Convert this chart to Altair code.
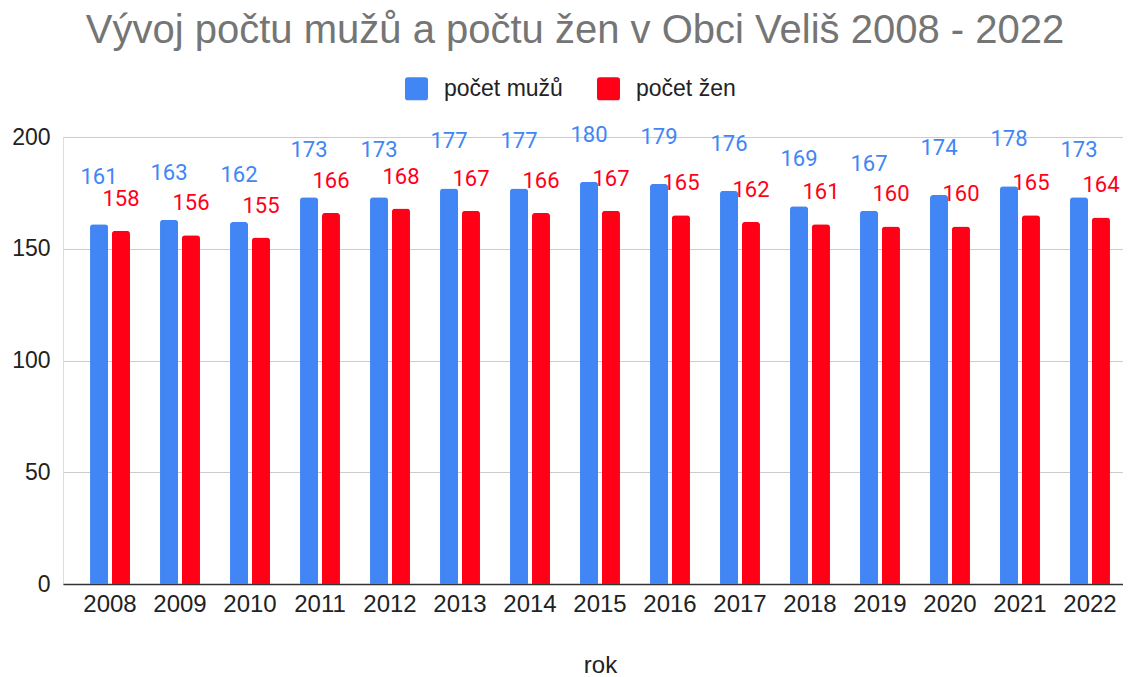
import altair as alt
import pandas as pd

years = ["2008", "2009", "2010", "2011", "2012", "2013", "2014", "2015",
         "2016", "2017", "2018", "2019", "2020", "2021", "2022"]
muzi = [161, 163, 162, 173, 173, 177, 177, 180, 179, 176, 169, 167, 174, 178, 173]
zeny = [158, 156, 155, 166, 168, 167, 166, 167, 165, 162, 161, 160, 160, 165, 164]
series = ["počet mužů", "počet žen"]
colors = ["#4285F4", "#FF0017"]

rows = []
for i, y in enumerate(years):
    rows.append({"rok": y, "serie": series[0], "hodnota": muzi[i]})
    rows.append({"rok": y, "serie": series[1], "hodnota": zeny[i]})
df = pd.DataFrame(rows)

FONT = "Liberation Sans"
rounded = ("M -0.75 -1 L 0.75 -1 Q 1 -1 1 -0.75 L 1 0.75 Q 1 1 0.75 1 "
           "L -0.75 1 Q -1 1 -1 0.75 L -1 -0.75 Q -1 -1 -0.75 -1 Z")

x = alt.X("rok:N", sort=years, title="rok",
          scale=alt.Scale(paddingInner=0.429, paddingOuter=0.386, range=[0, 1074]),
          axis=alt.Axis(labelAngle=0, labelFontSize=24, labelColor="#222222",
                        labelFont=FONT, titleFont=FONT, titleFontSize=24,
                        titleFontWeight="normal", titleColor="#222222",
                        titlePadding=37, labelPadding=8, ticks=False,
                        domainColor="#333333", domainWidth=1.5))
xo = alt.XOffset("serie:N", sort=series, scale=alt.Scale(paddingInner=0.18))
y = alt.Y("hodnota:Q", title=None,
          scale=alt.Scale(domain=[0, 200], nice=False),
          axis=alt.Axis(values=[0, 50, 100, 150, 200], labelFontSize=23,
                        labelColor="#222222", labelFont=FONT, labelPadding=13,
                        ticks=False, domain=False, gridColor="#cccccc"))
color = alt.Color("serie:N", sort=series,
                  scale=alt.Scale(domain=series, range=colors),
                  legend=alt.Legend(title=None, orient="none", direction="horizontal",
                                    legendX=342, legendY=-60, symbolType=rounded,
                                    symbolSize=529, symbolStrokeWidth=0,
                                    labelFontSize=23, labelFont=FONT,
                                    labelColor="#222222", columnPadding=34,
                                    labelOffset=16))

base = alt.Chart(df)
bars = base.mark_bar(cornerRadiusTopLeft=3, cornerRadiusTopRight=3).encode(
    x=x, xOffset=xo, y=y, color=color)

lab_m = base.transform_filter(alt.datum.serie == series[0]).mark_text(
    fontSize=22, font="Roboto", dy=-47, baseline="middle", color=colors[0]
).encode(x=x, xOffset=xo, y=y, text="hodnota:Q")
lab_z = base.transform_filter(alt.datum.serie == series[1]).mark_text(
    fontSize=22, font="Roboto", dy=-32, baseline="middle", color=colors[1]
).encode(x=x, xOffset=xo, y=y, text="hodnota:Q")

chart = alt.layer(bars, lab_m, lab_z).properties(
    width=1060, height=447,
    title=alt.TitleParams("Vývoj počtu mužů a počtu žen v Obci Veliš 2008 - 2022",
                          fontSize=40, font=FONT, fontWeight="normal",
                          color="#757575", anchor="middle", dx=-18, offset=26),
    autosize=alt.AutoSizeParams(type="none"),
    padding={"left": 55, "top": 129, "right": 0, "bottom": 92},
).configure_view(stroke=None).configure(background="white")

chart.save("out.html", embed_options={"renderer": "svg", "actions": False})
